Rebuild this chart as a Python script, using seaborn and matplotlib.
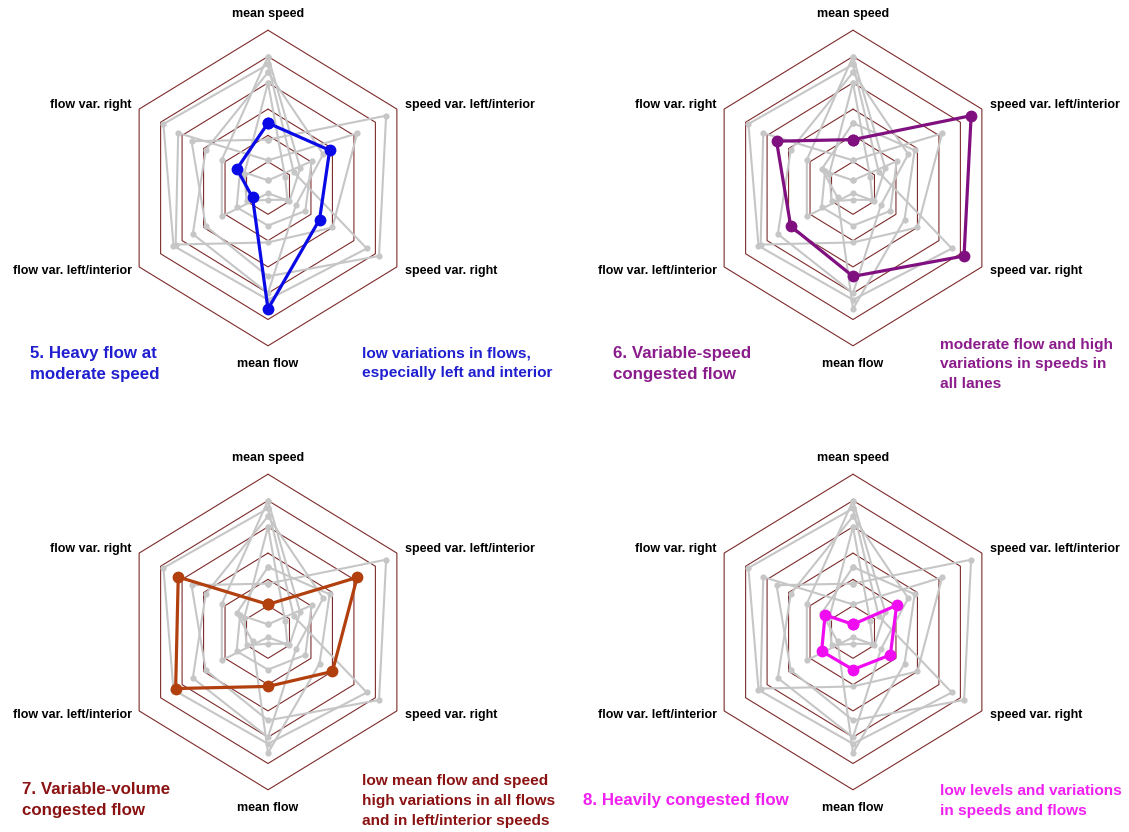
import numpy as np
import pandas as pd
import matplotlib.pyplot as plt
import seaborn as sns

# radar axes, clockwise from the top
axis_labels = ["mean speed", "speed var. left/interior", "speed var. right",
               "mean flow", "flow var. left/interior", "flow var. right"]
axis_angles = [90, 30, -30, -90, -150, 150]

# cluster profiles (grid scale 0-6), same axis order as above
cluster_1 = [5.0, 1.5, 1.0, 0.2, 2.15, 2.15]
cluster_2 = [4.7, 1.2, 4.6, 4.25, 4.4, 4.87]
cluster_3 = [4.4, 2.57, 1.3, 4.0, 3.5, 2.9]
cluster_4 = [4.0, 0.8, 0.9, 0.45, 1.0, 1.1]
cluster_5 = [2.47, 2.87, 2.4, 4.6, 0.72, 1.45]
cluster_6 = [1.84, 5.5, 5.17, 3.36, 2.9, 3.56]
cluster_7 = [1.05, 4.15, 3.0, 2.07, 4.3, 4.18]
cluster_8 = [0.29, 2.03, 1.74, 1.43, 1.46, 1.3]
cluster_values = [cluster_1, cluster_2, cluster_3, cluster_4,
                  cluster_5, cluster_6, cluster_7, cluster_8]

# panels
highlight = [5, 6, 7, 8]
line_colors = ["#0a0ae6", "#80107f", "#b2400f", "#f00cf0"]
text_colors = ["#1f1fd0", "#8b1c8b", "#8b1212", "#f020f0"]
titles = ["5. Heavy flow at\nmoderate speed",
          "6. Variable-speed\ncongested flow",
          "7. Variable-volume\ncongested flow",
          "8. Heavily congested flow"]
descriptions = ["low variations in flows,\nespecially left and interior",
                "moderate flow and high\nvariations in speeds in\nall lanes",
                "low mean flow and speed\nhigh variations in all flows\nand in left/interior speeds",
                "low levels and variations\nin speeds and flows"]
grid_levels = [1, 2, 3, 4, 5, 6]

# long table of points
rows = []
for i, vals in enumerate(cluster_values):
    for j, v in enumerate(vals + vals[:1]):  # close the polygon
        a = np.deg2rad(axis_angles[j % 6])
        rows.append({"cluster": i + 1, "order": j, "value": v,
                     "x": v * np.cos(a), "y": v * np.sin(a)})
df = pd.DataFrame(rows)

sns.set_style("white")
plt.rcParams["font.family"] = ["Liberation Sans", "DejaVu Sans"]

W, H = 1129, 832
fig = plt.figure(figsize=(W / 100, H / 100), dpi=100)

PX_X, PX_Y = 24.8, 26.3   # pixels per data unit
XL, YL = 8, 7
centers = [(268, 188), (853, 188), (268, 632), (853, 632)]
title_pos = [(30, 364), (613, 364), (22, 800), (583, 801)]
desc_pos = [(362, 363), (940, 364), (362, 801), (940, 801)]

hex_ang = np.deg2rad(axis_angles + axis_angles[:1])

for k, h in enumerate(highlight):
    cx, cy = centers[k]
    w, hh = 2 * XL * PX_X, 2 * YL * PX_Y
    ax = fig.add_axes([(cx - w / 2) / W, (H - cy - hh / 2) / H, w / W, hh / H])
    ax.set_xlim(-XL, XL)
    ax.set_ylim(-YL, YL)
    ax.axis("off")

    for lv in grid_levels:
        ax.plot(lv * np.cos(hex_ang), lv * np.sin(hex_ang), color="#7d2b2b",
                lw=0.8, zorder=1)

    gray = df[df["cluster"] != h]
    sns.lineplot(data=gray, x="x", y="y", units="cluster", estimator=None,
                 sort=False, color="#c6c6c6", lw=1.5, marker="o",
                 markersize=4.5, markeredgewidth=0, ax=ax, legend=False,
                 zorder=2)
    sel = df[df["cluster"] == h]
    sns.lineplot(data=sel, x="x", y="y", estimator=None, sort=False,
                 color=line_colors[k], lw=2.3, marker="o", markersize=8.5,
                 markeredgewidth=0, ax=ax, legend=False, zorder=3)

    lab_kw = dict(fontsize=9, fontweight="bold", color="black", va="center")
    ax.text(0, 6.62, axis_labels[0], ha="center", **lab_kw)
    ax.text(5.52, 3.16, axis_labels[1], ha="left", **lab_kw)
    ax.text(5.52, -3.16, axis_labels[2], ha="left", **lab_kw)
    ax.text(0, -6.69, axis_labels[3], ha="center", **lab_kw)
    ax.text(-5.5, -3.16, axis_labels[4], ha="right", **lab_kw)
    ax.text(-5.5, 3.16, axis_labels[5], ha="right", **lab_kw)

    tx, ty = title_pos[k]
    fig.text(tx / W, 1 - ty / H, titles[k], fontsize=12.2, fontweight="bold",
             color=text_colors[k], ha="left", va="center", linespacing=1.45)
    dx, dy = desc_pos[k]
    fig.text(dx / W, 1 - dy / H, descriptions[k], fontsize=11.1,
             fontweight="bold", color=text_colors[k], ha="left", va="center",
             linespacing=1.5)

fig.savefig("out.png", dpi=100, facecolor="white")
